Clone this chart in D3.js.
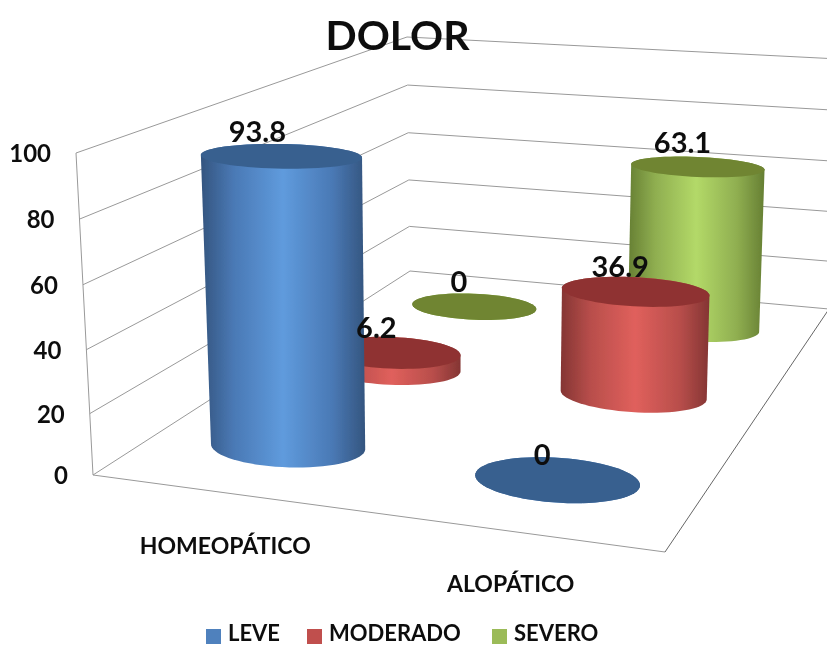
<!DOCTYPE html>
<html>
<head>
<meta charset="utf-8">
<script src="https://cdn.jsdelivr.net/npm/d3@7"></script>
<style>
html, body { margin: 0; padding: 0; background: #fff; }
svg { display: block; }
text { font-family: Lato, "Open Sans", sans-serif; font-weight: bold; fill: #111; }
</style>
</head>
<body>
<div id="chart"></div>
<script>
var categories = ["HOMEOPÁTICO", "ALOPÁTICO"];
var seriesNames = ["LEVE", "MODERADO", "SEVERO"];
var leve = [93.8, 0];
var moderado = [6.2, 36.9];
var severo = [0, 63.1];
var yTicks = [0, 20, 40, 60, 80, 100];

var seriesValues = [leve, moderado, severo];
var seriesColors = ["#4f81bd", "#c0504d", "#9bbb59"];
var seriesLight = ["#5f9bdd", "#e0605c", "#b3d968"];
var seriesMid = ["#4a79b5", "#b84e4b", "#8fae50"];
var seriesDark = ["#34557f", "#843533", "#667f33"];
var seriesTop = ["#38608f", "#8f3331", "#6f8532"];

var width = 827, height = 646;

var svg = d3.select("#chart").append("svg")
  .attr("width", width)
  .attr("height", height);

var defs = svg.append("defs");
defs.append("filter").attr("id", "soft")
  .append("feGaussianBlur").attr("stdDeviation", 0.6);

// corners of the chart box on screen: front-left, front-right, back-right, back-left
var floorCorners = [[93, 475], [665, 552], [829, 309], [410, 271]];
var topCorners = [[76, 153], [672, 195], [839, 59], [407, 37]];

// unit square to quad
function quadMap(c) {
  var dx1 = c[1][0] - c[2][0], dx2 = c[3][0] - c[2][0], sx = c[0][0] - c[1][0] + c[2][0] - c[3][0],
      dy1 = c[1][1] - c[2][1], dy2 = c[3][1] - c[2][1], sy = c[0][1] - c[1][1] + c[2][1] - c[3][1],
      det = dx1 * dy2 - dx2 * dy1,
      g = (sx * dy2 - dx2 * sy) / det,
      h = (dx1 * sy - sx * dy1) / det,
      a = c[1][0] - c[0][0] + g * c[1][0],
      b = c[3][0] - c[0][0] + h * c[3][0],
      d = c[1][1] - c[0][1] + g * c[1][1],
      e = c[3][1] - c[0][1] + h * c[3][1];
  return function(u, v) {
    var w = g * u + h * v + 1;
    return [(a * u + b * v + c[0][0]) / w, (d * u + e * v + c[0][1]) / w];
  };
}

var floorMap = quadMap(floorCorners),
    topMap = quadMap(topCorners);

var xBand = d3.scaleBand().domain(categories).range([0, 1]);
var zBand = d3.scaleBand().domain(seriesNames).range([0, 1]);
// slight power because the gridlines spread out towards the viewer
var y = d3.scalePow().exponent(1.03).domain([0, 100]).range([0, 1]);

// u along categories, v into the depth, val on the value axis
function project(u, v, val) {
  var f = floorMap(u, v), t = topMap(u, v), k = y(val);
  return [f[0] + (t[0] - f[0]) * k, f[1] + (t[1] - f[1]) * k];
}

var line = d3.line();
var chart = svg.append("g").attr("filter", "url(#soft)");

// walls
var grid = chart.append("g")
  .style("fill", "none")
  .style("stroke", "#999")
  .style("stroke-width", "1px");

grid.selectAll(".grid")
  .data(yTicks)
  .enter().append("path")
  .attr("class", "grid")
  .attr("d", function(d) {
    return line([project(0, 0, d), project(0, 1, d), project(1, 1, d)]);
  });

grid.append("path").attr("d", line([project(0, 0, 0), project(0, 0, 100)]));
grid.append("path").attr("d", line([project(0, 0, 0), project(1, 0, 0)]));
grid.append("path")
  .style("stroke", "#666")
  .attr("d", line([project(1, 0, 0), project(1, 1, 0)]));

// cylinders, back row first
var radiusU = xBand.bandwidth() * 0.284,
    radiusV = zBand.bandwidth() * 0.215;

var bars = [];
seriesNames.forEach(function(name, s) {
  categories.forEach(function(cat, c) {
    bars.push({name: name, s: s, cat: cat, c: c, value: seriesValues[s][c]});
  });
});
bars.sort(function(a, b) { return b.s - a.s || a.c - b.c; });

function ring(d, val) {
  var u = xBand(d.cat) + xBand.bandwidth() / 2,
      v = zBand(d.name) + zBand.bandwidth() / 2;
  return d3.range(0, 360, 5).map(function(a) {
    var r = a * Math.PI / 180;
    return project(u + radiusU * Math.cos(r), v + radiusV * Math.sin(r), val);
  });
}

bars.forEach(function(d, i) {
  var base = ring(d, 0),
      top = ring(d, d.value),
      hull = d3.polygonHull(base.concat(top)),
      xr = d3.extent(hull, function(p) { return p[0]; });

  var grad = defs.append("linearGradient")
    .attr("id", "side" + i)
    .attr("gradientUnits", "userSpaceOnUse")
    .attr("x1", xr[0]).attr("x2", xr[1])
    .attr("y1", 0).attr("y2", 0);
  [[0, seriesDark[d.s]], [0.2, seriesMid[d.s]], [0.5, seriesLight[d.s]], [0.8, seriesMid[d.s]], [1, seriesDark[d.s]]]
    .forEach(function(st) {
      grad.append("stop").attr("offset", st[0]).attr("stop-color", st[1]);
    });

  chart.append("path")
    .attr("class", "side")
    .attr("d", line(hull) + "Z")
    .style("fill", "url(#side" + i + ")");

  chart.append("path")
    .attr("class", "cap")
    .attr("d", line(top) + "Z")
    .style("fill", seriesTop[d.s]);
});

// value labels
chart.selectAll(".value")
  .data(bars)
  .enter().append("text")
  .attr("class", "value")
  .attr("text-anchor", "middle")
  .style("font-size", "29px")
  .attr("transform", function(d) {
    var p = project(xBand(d.cat) + xBand.bandwidth() / 2, zBand(d.name) + zBand.bandwidth() / 2, d.value);
    var dx = d.value > 90 ? -24 : -15;
    return "translate(" + (p[0] + dx) + "," + (p[1] - 14) + ")";
  })
  .text(function(d) { return d.value; });

// value axis labels
chart.selectAll(".tick")
  .data(yTicks)
  .enter().append("text")
  .attr("class", "tick")
  .attr("text-anchor", "end")
  .style("font-size", "24px")
  .attr("x", function(d) { return project(0, 0, d)[0] - 25; })
  .attr("y", function(d) { return project(0, 0, d)[1] + 9; })
  .text(function(d) { return d; });

// category labels sit under the front edge
chart.selectAll(".cat")
  .data(categories)
  .enter().append("text")
  .attr("class", "cat")
  .attr("text-anchor", "middle")
  .style("font-size", "23px")
  .attr("transform", function(d) {
    var p = project(xBand(d) + xBand.bandwidth() / 2, 0, 0);
    return "translate(" + p[0] + "," + (p[1] + 61) + ")";
  })
  .text(function(d) { return d; });

chart.append("text")
  .attr("x", 397.5)
  .attr("y", 50)
  .attr("text-anchor", "middle")
  .style("font-size", "41px")
  .text("DOLOR");

// legend
var legendX = d3.scaleOrdinal().domain(seriesNames).range([206, 307, 492]);

var legend = chart.selectAll(".legend")
  .data(seriesNames)
  .enter().append("g")
  .attr("class", "legend")
  .attr("transform", function(d) { return "translate(" + legendX(d) + ",629)"; });

legend.append("rect")
  .attr("width", 15)
  .attr("height", 15)
  .style("fill", function(d, i) { return seriesColors[i]; });

legend.append("text")
  .attr("x", 22)
  .attr("y", 12)
  .style("font-size", "22px")
  .text(function(d) { return d; });
</script>
</body>
</html>
